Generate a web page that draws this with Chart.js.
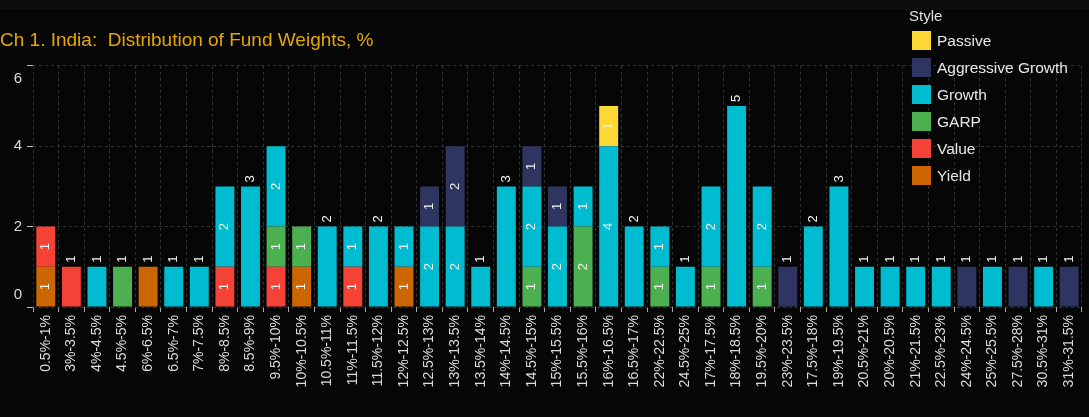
<!DOCTYPE html>
<html>
<head>
<meta charset="utf-8">
<script src="https://cdn.jsdelivr.net/npm/chart.js@4"></script>
<style>
  html, body { margin: 0; padding: 0; background: #060606; }
  #wrap { position: relative; width: 1089px; height: 417px; }
  #topband { position: absolute; left: 0; top: 0; width: 1089px; height: 10px; background: #0d0d0d; border-bottom: 1px solid #000; }
  #grafico { position: relative; }
</style>
</head>
<body>
<div id="wrap">
  <div id="topband"></div>
  <canvas id="grafico"></canvas>
</div>
<script>
// categorias (bandas de peso) y valores por estilo
const categorias = ['0.5%-1%','3%-3.5%','4%-4.5%','4.5%-5%','6%-6.5%','6.5%-7%','7%-7.5%','8%-8.5%','8.5%-9%','9.5%-10%',
  '10%-10.5%','10.5%-11%','11%-11.5%','11.5%-12%','12%-12.5%','12.5%-13%','13%-13.5%','13.5%-14%','14%-14.5%','14.5%-15%',
  '15%-15.5%','15.5%-16%','16%-16.5%','16.5%-17%','22%-22.5%','24.5%-25%','17%-17.5%','18%-18.5%','19.5%-20%','23%-23.5%',
  '17.5%-18%','19%-19.5%','20.5%-21%','20%-20.5%','21%-21.5%','22.5%-23%','24%-24.5%','25%-25.5%','27.5%-28%','30.5%-31%','31%-31.5%'];

const yieldVals   = [1,0,0,0,1,0,0,0,0,0, 1,0,0,0,1,0,0,0,0,0, 0,0,0,0,0,0,0,0,0,0, 0,0,0,0,0,0,0,0,0,0,0];
const valueVals   = [1,1,0,0,0,0,0,1,0,1, 0,0,1,0,0,0,0,0,0,0, 0,0,0,0,0,0,0,0,0,0, 0,0,0,0,0,0,0,0,0,0,0];
const garpVals    = [0,0,0,1,0,0,0,0,0,1, 1,0,0,0,0,0,0,0,0,1, 0,2,0,0,1,0,1,0,1,0, 0,0,0,0,0,0,0,0,0,0,0];
const growthVals  = [0,0,1,0,0,1,1,2,3,2, 0,2,1,2,1,2,2,1,3,2, 2,1,4,2,1,1,2,5,2,0, 2,3,1,1,1,1,0,1,0,1,0];
const aggVals     = [0,0,0,0,0,0,0,0,0,0, 0,0,0,0,0,1,2,0,0,1, 1,0,0,0,0,0,0,0,0,1, 0,0,0,0,0,0,1,0,1,0,1];
const passiveVals = [0,0,0,0,0,0,0,0,0,0, 0,0,0,0,0,0,0,0,0,0, 0,0,1,0,0,0,0,0,0,0, 0,0,0,0,0,0,0,0,0,0,0];

const yTicks = [0, 2, 4, 6];
const fuente = "'Liberation Sans', Arial, sans-serif";

// orden de apilado: de abajo hacia arriba
const series = [
  { label: 'Yield', data: yieldVals, color: '#CC6600' },
  { label: 'Value', data: valueVals, color: '#F44336' },
  { label: 'GARP', data: garpVals, color: '#4CAF50' },
  { label: 'Growth', data: growthVals, color: '#00BCD0' },
  { label: 'Aggressive Growth', data: aggVals, color: '#2E3560' },
  { label: 'Passive', data: passiveVals, color: '#FDD835' }
];

// etiquetas de valor dentro / encima de las barras
const etiquetasPlugin = {
  id: 'etiquetas',
  afterDatasetsDraw(chart) {
    const ctx = chart.ctx;
    ctx.save();
    ctx.fillStyle = '#f2f2f2';
    ctx.font = '13px ' + fuente;
    ctx.textBaseline = 'middle';
    categorias.forEach((c, i) => {
      const activos = chart.data.datasets.filter(d => d.data[i] > 0).length;
      chart.data.datasets.forEach((ds, di) => {
        const v = ds.data[i];
        if (!v) return;
        const el = chart.getDatasetMeta(di).data[i];
        ctx.save();
        if (activos === 1) {
          ctx.translate(el.x, el.y - 4);
          ctx.rotate(-Math.PI / 2);
          ctx.textAlign = 'left';
        } else {
          ctx.translate(el.x, (el.y + el.base) / 2);
          ctx.rotate(-Math.PI / 2);
          ctx.textAlign = 'center';
        }
        ctx.fillText(String(v), 0, 0);
        ctx.restore();
      });
    });
    ctx.restore();
  }
};

// etiquetas del eje y (las de los extremos van hacia dentro)
const ejeYPlugin = {
  id: 'ejeY',
  afterDraw(chart) {
    const ctx = chart.ctx;
    const y = chart.scales.y;
    ctx.save();
    ctx.fillStyle = '#dcdcdc';
    ctx.font = '15px ' + fuente;
    ctx.textAlign = 'right';
    ctx.textBaseline = 'middle';
    yTicks.forEach(v => {
      let py = y.getPixelForValue(v);
      if (v === y.max) py += 13;
      if (v === y.min) py -= 12;
      ctx.fillText(String(v), 22, py);
    });
    ctx.restore();
  }
};

// leyenda a la derecha, encima del grafico
const leyendaPlugin = {
  id: 'leyenda',
  afterDraw(chart) {
    const ctx = chart.ctx;
    ctx.save();
    ctx.textBaseline = 'middle';
    ctx.textAlign = 'left';
    ctx.fillStyle = '#e0e0e0';
    ctx.font = '15px ' + fuente;
    ctx.fillText('Style', 909, 17);
    const orden = series.slice().reverse();
    orden.forEach((s, k) => {
      const cy = 40.5 + k * 27;
      ctx.fillStyle = s.color;
      ctx.fillRect(912, cy - 9.5, 19, 19);
      ctx.fillStyle = '#e8e8e8';
      ctx.font = '15.5px ' + fuente;
      ctx.fillText(s.label, 937, cy + 1);
    });
    ctx.restore();
  }
};

new Chart(document.getElementById('grafico'), {
  type: 'bar',
  data: {
    labels: categorias,
    datasets: series.map(s => ({
      label: s.label,
      data: s.data,
      backgroundColor: s.color,
      borderWidth: 0,
      barPercentage: 0.74,
      categoryPercentage: 1
    }))
  },
  options: {
    responsive: true,
    maintainAspectRatio: false,
    animation: false,
    layout: { padding: { left: 0, right: 0, top: 0, bottom: 0 } },
    plugins: {
      legend: { display: false },
      tooltip: { enabled: false },
      title: {
        display: true,
        text: 'Ch 1. India:  Distribution of Fund Weights, %',
        align: 'start',
        color: '#E6A800',
        font: { family: fuente, size: 19, weight: 'normal' },
        padding: { top: 29, bottom: 14 }
      }
    },
    scales: {
      x: {
        stacked: true,
        border: { display: false, dash: [3, 3] },
        grid: { color: '#333', tickColor: '#aaa', tickLength: 5, tickBorderDash: [], offset: true },
        ticks: {
          color: '#dcdcdc', font: { family: fuente, size: 14 },
          minRotation: 90, maxRotation: 90, autoSkip: false, padding: 3
        },
        afterFit: s => { s.height = 110; }
      },
      y: {
        stacked: true,
        min: 0, max: 6,
        border: { display: false, dash: [3, 3] },
        grid: { color: '#333', tickColor: '#bbb', tickLength: 6, tickBorderDash: [] },
        afterBuildTicks: s => { s.ticks = yTicks.map(v => ({ value: v })); },
        ticks: { display: false },
        afterFit: s => { s.width = 33; }
      }
    }
  },
  plugins: [etiquetasPlugin, ejeYPlugin, leyendaPlugin]
});
</script>
</body>
</html>
